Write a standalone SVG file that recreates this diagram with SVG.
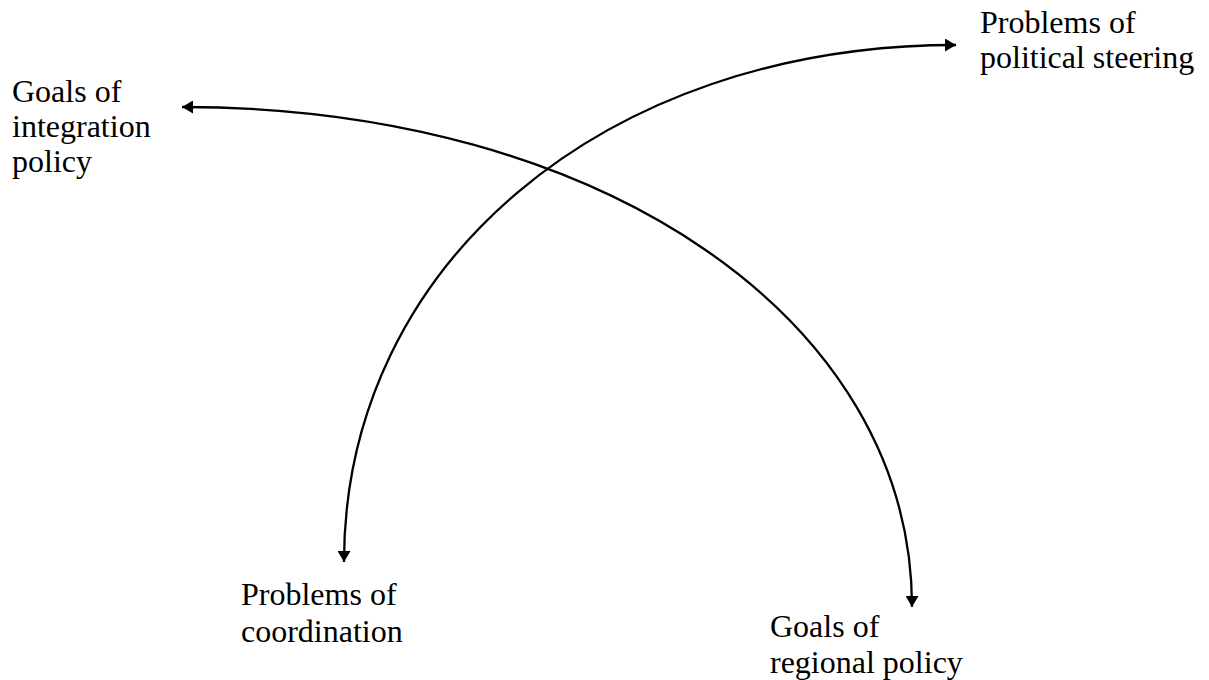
<svg xmlns="http://www.w3.org/2000/svg" width="1209" height="680" viewBox="0 0 1209 680">
<style>
.lbl{font-family:"Liberation Serif","Times New Roman",serif;font-size:32px;fill:#000}
.arc{fill:none;stroke:#000;stroke-width:2.3}
</style>
<defs>
<marker id="ah" viewBox="0 0 11 13" refX="11" refY="6.5" markerWidth="11" markerHeight="13" markerUnits="userSpaceOnUse" orient="auto-start-reverse">
<path d="M0,0 L11,6.5 L0,13 Z" fill="#000"/>
</marker>
</defs>
<rect width="1209" height="680" fill="#fff"/>
<g id="connectors">
<path class="arc" d="M182,107 C601.75,107 912,319.5 912,607" marker-start="url(#ah)" marker-end="url(#ah)"/>
<path class="arc" d="M344,562 C344,264.7 604.1,45 956,45" marker-start="url(#ah)" marker-end="url(#ah)"/>
</g>
<g id="goals-integration"><text class="lbl" x="12" y="102">Goals of</text><text class="lbl" x="12" y="137">integration</text><text class="lbl" x="12" y="172">policy</text></g>
<g id="problems-steering"><text class="lbl" x="980" y="33">Problems of</text><text class="lbl" x="980" y="68">political steering</text></g>
<g id="problems-coordination"><text class="lbl" x="241" y="605">Problems of</text><text class="lbl" x="241" y="642">coordination</text></g>
<g id="goals-regional"><text class="lbl" x="770" y="637">Goals of</text><text class="lbl" x="770" y="673">regional policy</text></g>
</svg>
